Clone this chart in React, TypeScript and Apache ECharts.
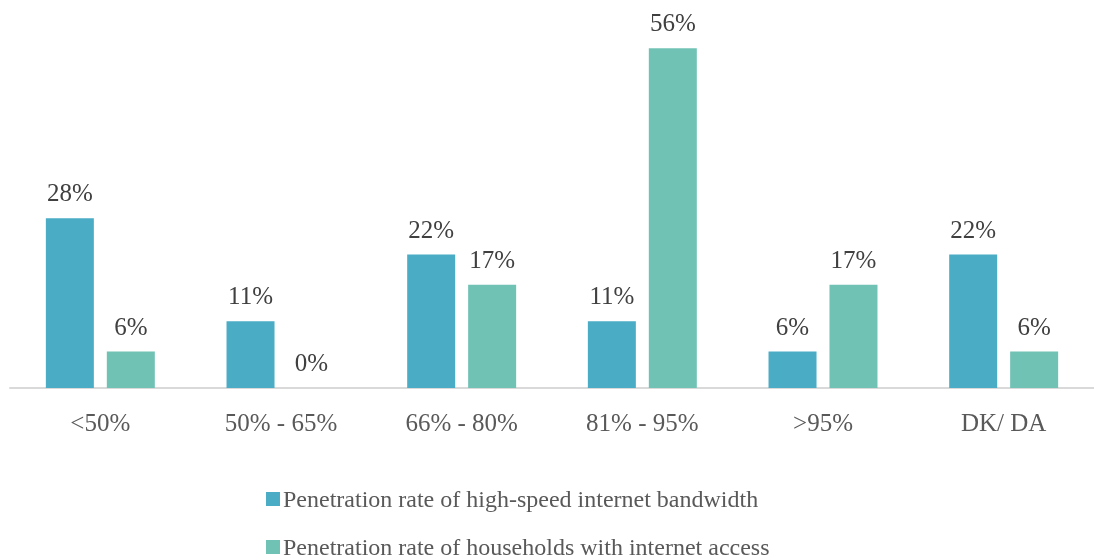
import React, { useEffect, useRef } from "react";
import * as echarts from "echarts";

const categories = ["<50%", "50% - 65%", "66% - 80%", "81% - 95%", ">95%", "DK/ DA"];
const bandwidthValues = [28, 11, 22, 11, 6, 22];
const householdValues = [6, 0, 17, 56, 17, 6];
const seriesNames = [
  "Penetration rate of high-speed internet bandwidth",
  "Penetration rate of households with internet access",
];

const FONT = "Liberation Serif";

export default function App() {
  const ref = useRef<HTMLDivElement>(null);
  useEffect(() => {
    if (!ref.current) return;
    const chart = echarts.init(ref.current, null, { renderer: "svg" });
    const label = {
      show: true,
      position: "top",
      distance: 13,
      formatter: "{c}%",
      color: "#404040",
      fontSize: 25,
      fontFamily: FONT,
    };
    chart.setOption({
      animation: false,
      grid: { left: 10, width: 1093, top: 24, height: 364 },
      legend: {
        orient: "vertical",
        left: 261,
        top: 482,
        height: 80,
        itemGap: 24,
        itemWidth: 14,
        itemHeight: 14,
        icon: "rect",
        textStyle: { color: "#595959", fontSize: 24, fontFamily: FONT, padding: [0, 0, 0, -2] },
        data: seriesNames,
      },
      xAxis: {
        type: "category",
        data: categories,
        axisLine: { show: true, lineStyle: { color: "#D9D9D9", width: 2 } },
        axisTick: { show: false },
        axisLabel: { color: "#595959", fontSize: 25, fontFamily: FONT, margin: 22 },
      },
      yAxis: {
        type: "value",
        min: 0,
        max: 60,
        show: false,
        splitLine: { show: false },
      },
      series: [
        {
          name: seriesNames[0],
          type: "bar",
          data: bandwidthValues,
          barWidth: 48,
          barGap: "27%",
          itemStyle: { color: "#4BACC6" },
          label,
        },
        {
          name: seriesNames[1],
          type: "bar",
          data: householdValues,
          barWidth: 48,
          barGap: "27%",
          itemStyle: { color: "#70C2B4" },
          label,
        },
      ],
    });
    return () => chart.dispose();
  }, []);
  return (
    <div
      ref={ref}
      style={{ position: "fixed", left: 0, top: 0, width: 1094, height: 560 }}
    />
  );
}
